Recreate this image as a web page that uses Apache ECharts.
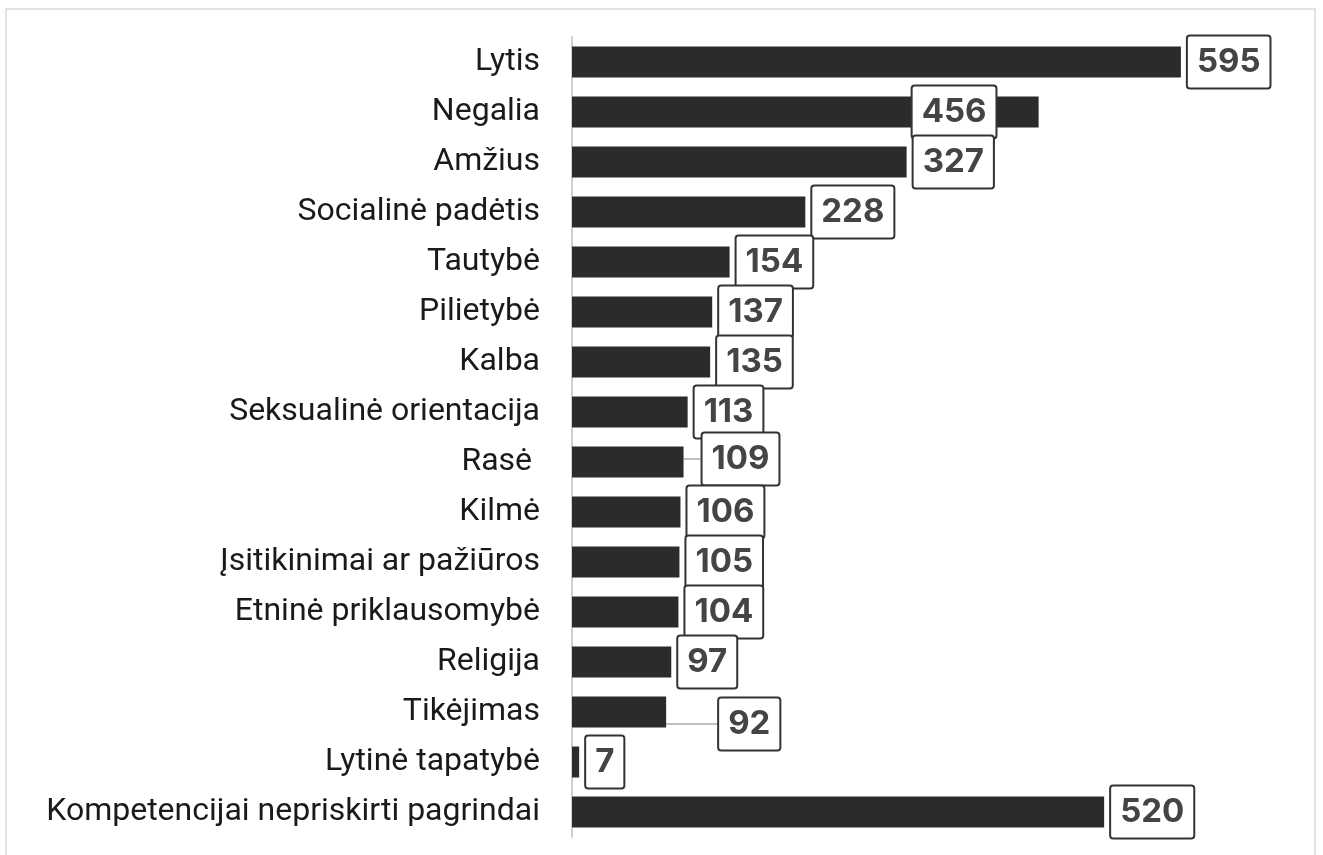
<!DOCTYPE html>
<html>
<head>
    <meta charset="utf-8">
    <title>ECharts</title>
    <script src="https://cdn.jsdelivr.net/npm/echarts@6/dist/echarts.min.js"></script>
    <style>
        body { margin: 0; background: #fff; }
        #frame { position: absolute; left: 5px; top: 8px; width: 1307px; height: 900px; border: 2px solid #e2e2e2; }
        #main { position: absolute; left: 0; top: 0; width: 1323px; height: 855px; }
    </style>
</head>
<body>
    <div id="frame"></div>
    <div id="main"></div>
    <script type="text/javascript">
var categories = ['Lytis', 'Negalia', 'Amžius', 'Socialinė padėtis', 'Tautybė', 'Pilietybė', 'Kalba',
    'Seksualinė orientacija', 'Rasė ', 'Kilmė', 'Įsitikinimai ar pažiūros', 'Etninė priklausomybė',
    'Religija', 'Tikėjimas', 'Lytinė tapatybė', 'Kompetencijai nepriskirti pagrindai'];
var values = [595, 456, 327, 228, 154, 137, 135, 113, 109, 106, 105, 104, 97, 92, 7, 520];

// label nudges (px) where the labels were moved apart, and which get a leader line
var labelDx = [0, -133, 0, 0, 0, 0, 0, 0, 12, 0, 0, 0, 0, 46, 0, 0];
var labelDy = [0, 0, 0, 0, 0, 0, 0, 0, -3, 0, 0, 0, 0, 12, 0, 0];
var leader = [8, 13];

var myChart = echarts.init(document.getElementById('main'));

var barData = values.map(function (v, i) {
    return {
        value: v,
        labelLine: { show: leader.indexOf(i) >= 0 }
    };
});

var option = {
    animation: false,
    grid: { left: 572, top: 37, width: 614, height: 800 },
    xAxis: {
        type: 'value',
        min: 0,
        max: 600,
        show: false
    },
    yAxis: {
        type: 'category',
        inverse: true,
        data: categories,
        axisLine: { show: true, lineStyle: { color: '#d0d0d0', width: 2 } },
        axisTick: { show: false },
        axisLabel: {
            margin: 32,
            fontSize: 32,
            fontFamily: 'Roboto',
            color: '#1a1a1a'
        }
    },
    series: [{
        type: 'bar',
        data: barData,
        barWidth: 31,
        itemStyle: { color: '#2b2b2b' },
        label: {
            show: true,
            position: 'right',
            distance: 7,
            fontFamily: 'Inter',
            fontWeight: 'bold',
            fontSize: 33,
            lineHeight: 41,
            color: '#444',
            backgroundColor: '#fff',
            borderColor: '#333',
            borderWidth: 2,
            borderRadius: 2,
            padding: [5, 9]
        },
        labelLine: {
            show: false,
            lineStyle: { color: '#aaa', width: 1.5 }
        },
        labelLayout: function (params) {
            return { dx: labelDx[params.dataIndex], dy: labelDy[params.dataIndex] };
        }
    }]
};

myChart.setOption(option);
    </script>
</body>
</html>
